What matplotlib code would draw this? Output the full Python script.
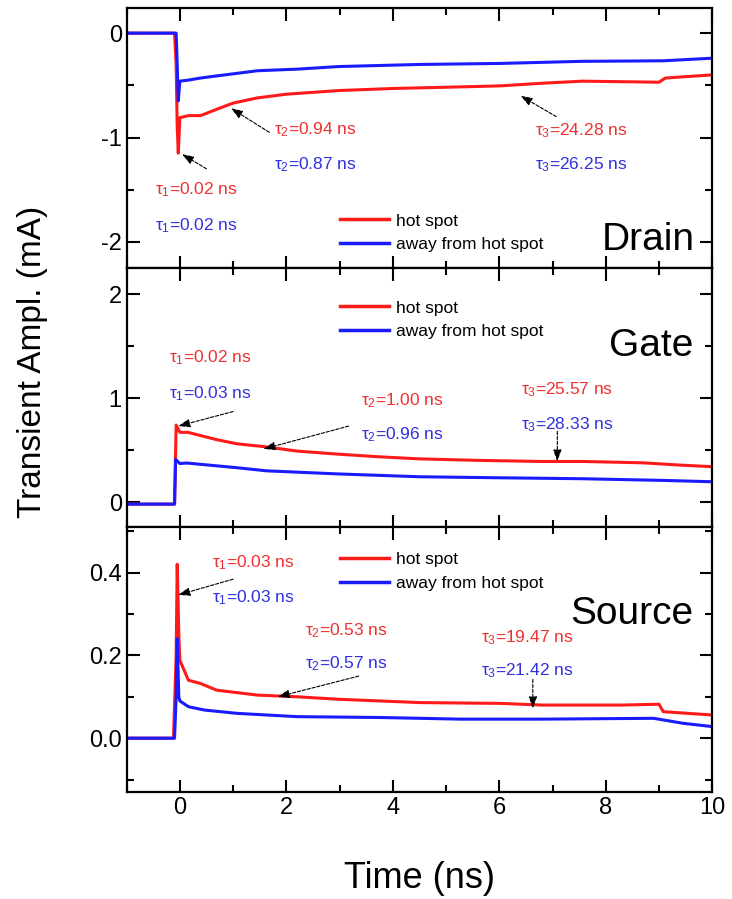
import matplotlib
matplotlib.use("Agg")
import matplotlib.pyplot as plt
from matplotlib.ticker import MultipleLocator

plt.rcParams['font.family'] = ['Liberation Sans', 'DejaVu Sans']
plt.rcParams['axes.unicode_minus'] = False
plt.rcParams['mathtext.fontset'] = 'custom'
plt.rcParams['mathtext.rm'] = 'Liberation Sans'
plt.rcParams['mathtext.it'] = 'Liberation Sans'

# --- data (time in ns, current in mA) ---
drain_hot_t = [-1, -0.1, -0.07, -0.05, -0.03, 0.0, 0.16, 0.39, 0.69, 1.0, 1.46, 2.0, 2.98, 4.01, 5.27, 6.03, 6.8, 7.56, 9.0, 9.12, 10]
drain_hot_v = [0, 0, -0.3, -0.9, -1.15, -0.81, -0.79, -0.79, -0.73, -0.67, -0.62, -0.585, -0.55, -0.53, -0.515, -0.505, -0.48, -0.46, -0.47, -0.43, -0.40]
drain_away_t = [-1, -0.07, -0.05, -0.03, 0.0, 0.16, 0.39, 0.69, 1.46, 2.2, 2.98, 4.5, 6.03, 7.56, 9.08, 10]
drain_away_v = [0, 0, -0.3, -0.65, -0.46, -0.45, -0.43, -0.41, -0.36, -0.345, -0.32, -0.30, -0.29, -0.27, -0.265, -0.24]

gate_hot_t = [-1, -0.1, -0.07, 0.0, 0.15, 0.69, 1.07, 1.63, 2.2, 2.98, 3.74, 4.5, 5.65, 6.8, 7.56, 8.7, 9.4, 10]
gate_hot_v = [-0.02, -0.02, 0.74, 0.67, 0.67, 0.6, 0.56, 0.53, 0.49, 0.46, 0.435, 0.415, 0.40, 0.39, 0.39, 0.377, 0.355, 0.34]
gate_away_t = [-1, -0.1, -0.08, 0.0, 0.13, 1.07, 1.63, 2.98, 4.5, 6.03, 7.56, 9.08, 10]
gate_away_v = [-0.02, -0.02, 0.41, 0.37, 0.375, 0.33, 0.30, 0.27, 0.243, 0.233, 0.224, 0.208, 0.195]

source_hot_t = [-1, -0.12, -0.07, -0.05, -0.02, 0.0, 0.16, 0.39, 0.69, 1.46, 2.2, 2.98, 3.74, 4.5, 6.03, 6.8, 8.3, 9.0, 9.08, 10]
source_hot_v = [0, 0, 0.2, 0.42, 0.25, 0.188, 0.14, 0.132, 0.116, 0.104, 0.1, 0.094, 0.09, 0.086, 0.084, 0.08, 0.08, 0.082, 0.064, 0.056]
source_away_t = [-1, -0.1, -0.07, -0.05, -0.02, 0.0, 0.16, 0.46, 1.07, 2.2, 3.74, 5.27, 6.8, 8.9, 9.45, 10]
source_away_v = [0, 0, 0.1, 0.24, 0.1, 0.09, 0.076, 0.068, 0.06, 0.052, 0.05, 0.046, 0.046, 0.048, 0.036, 0.028]

# fitted time constants (hot spot, away)
drain_tau = [("0.02", "0.02"), ("0.94", "0.87"), ("24.28", "26.25")]
gate_tau = [("0.02", "0.03"), ("1.00", "0.96"), ("25.57", "28.33")]
source_tau = [("0.03", "0.03"), ("0.53", "0.57"), ("19.47", "21.42")]

RED = '#ff1a1a'
BLUE = '#1a1aff'
TRED = '#f03030'
TBLUE = '#3030e0'

fig = plt.figure(figsize=(7.32, 8.99), dpi=100)
left, right = 0.173, 0.973
bot, top = 0.119, 0.991
edges = [top, 1 - 268 / 899, 1 - 527 / 899, bot]
axes = []
for i in range(3):
    ax = fig.add_axes([left, edges[i + 1], right - left, edges[i] - edges[i + 1]],
                      sharex=axes[0] if axes else None)
    axes.append(ax)
ax1, ax2, ax3 = axes


def style(ax, major, minor):
    ax.set_xlim(-1, 10)
    ax.xaxis.set_major_locator(MultipleLocator(2))
    ax.xaxis.set_minor_locator(MultipleLocator(1))
    ax.yaxis.set_major_locator(MultipleLocator(major))
    ax.yaxis.set_minor_locator(MultipleLocator(minor))
    ax.tick_params(which='both', direction='in', top=True, right=True, width=1.5,
                   labelsize=17)
    ax.tick_params(which='major', length=9)
    ax.tick_params(which='minor', length=5)
    for s in ax.spines.values():
        s.set_linewidth(1.6)


def tau_text(ax, x, yr, yb, n, pair, size=12.5):
    ax.text(x, yr, r'$\tau_%d$=%s ns' % (n, pair[0]), color=TRED, fontsize=size, va='center')
    ax.text(x, yb, r'$\tau_%d$=%s ns' % (n, pair[1]), color=TBLUE, fontsize=size, va='center')


def arrow(ax, tail, head):
    ax.annotate('', xy=head, xytext=tail,
                arrowprops=dict(arrowstyle='-|>,head_length=0.7,head_width=0.25',
                                color='black', lw=0.8, linestyle=(0, (3, 1.5)),
                                shrinkA=0, shrinkB=0))


def legend(ax, y_frac):
    leg = ax.legend(loc='upper left', bbox_to_anchor=(0.365, y_frac), frameon=False,
                    fontsize=12.5, handlelength=2.8, handletextpad=0.4, labelspacing=0.5,
                    borderpad=0, borderaxespad=0)
    for h in leg.legend_handles:
        h.set_linewidth(2.5)


# Drain
ax1.plot(drain_hot_t, drain_hot_v, color=RED, lw=2.2, label='hot spot')
ax1.plot(drain_away_t, drain_away_v, color=BLUE, lw=2.2, label='away from hot spot')
ax1.set_ylim(-2.25, 0.24)
style(ax1, 1, 0.5)
tau_text(ax1, -0.47, -1.50, -1.84, 1, drain_tau[0])
tau_text(ax1, 1.76, -0.92, -1.26, 2, drain_tau[1])
tau_text(ax1, 6.68, -0.93, -1.26, 3, drain_tau[2])
arrow(ax1, (0.5, -1.30), (0.04, -1.16))
arrow(ax1, (1.68, -0.95), (0.96, -0.72))
arrow(ax1, (7.07, -0.80), (6.4, -0.60))
ax1.text(9.68, -1.98, 'Drain', fontsize=28, ha='right', va='center')
legend(ax1, 0.21)

# Gate
ax2.plot(gate_hot_t, gate_hot_v, color=RED, lw=2.2, label='hot spot')
ax2.plot(gate_away_t, gate_away_v, color=BLUE, lw=2.2, label='away from hot spot')
ax2.set_ylim(-0.24, 2.25)
style(ax2, 1, 0.5)
tau_text(ax2, -0.2, 1.39, 1.04, 1, gate_tau[0])
tau_text(ax2, 3.4, 0.97, 0.65, 2, gate_tau[1])
tau_text(ax2, 6.41, 1.08, 0.745, 3, gate_tau[2])
arrow(ax2, (1.0, 0.87), (-0.03, 0.73))
arrow(ax2, (3.17, 0.73), (1.57, 0.51))
arrow(ax2, (7.09, 0.68), (7.09, 0.39))
ax2.text(9.65, 1.5, 'Gate', fontsize=28, ha='right', va='center')
legend(ax2, 0.875)

# Source
ax3.plot(source_hot_t, source_hot_v, color=RED, lw=2.2, label='hot spot')
ax3.plot(source_away_t, source_away_v, color=BLUE, lw=2.2, label='away from hot spot')
ax3.set_ylim(-0.13, 0.51)
style(ax3, 0.2, 0.1)
ax3.yaxis.set_major_formatter(plt.FormatStrFormatter('%.1f'))
tau_text(ax3, 0.6, 0.424, 0.34, 1, source_tau[0])
tau_text(ax3, 2.35, 0.26, 0.18, 2, source_tau[1])
tau_text(ax3, 5.65, 0.242, 0.162, 3, source_tau[2])
arrow(ax3, (1.0, 0.384), (-0.03, 0.346))
arrow(ax3, (3.36, 0.15), (1.84, 0.10))
arrow(ax3, (6.63, 0.142), (6.63, 0.072))
ax3.text(9.65, 0.30, 'Source', fontsize=28, ha='right', va='center')
legend(ax3, 0.905)

for ax in (ax1, ax2):
    ax.tick_params(labelbottom=False)
ax3.set_xlabel('Time (ns)', fontsize=26, labelpad=30)
fig.text(0.045, 0.597, 'Transient Ampl. (mA)', rotation=90, fontsize=24,
         ha='center', va='center')

fig.savefig('out.png', dpi=100)
